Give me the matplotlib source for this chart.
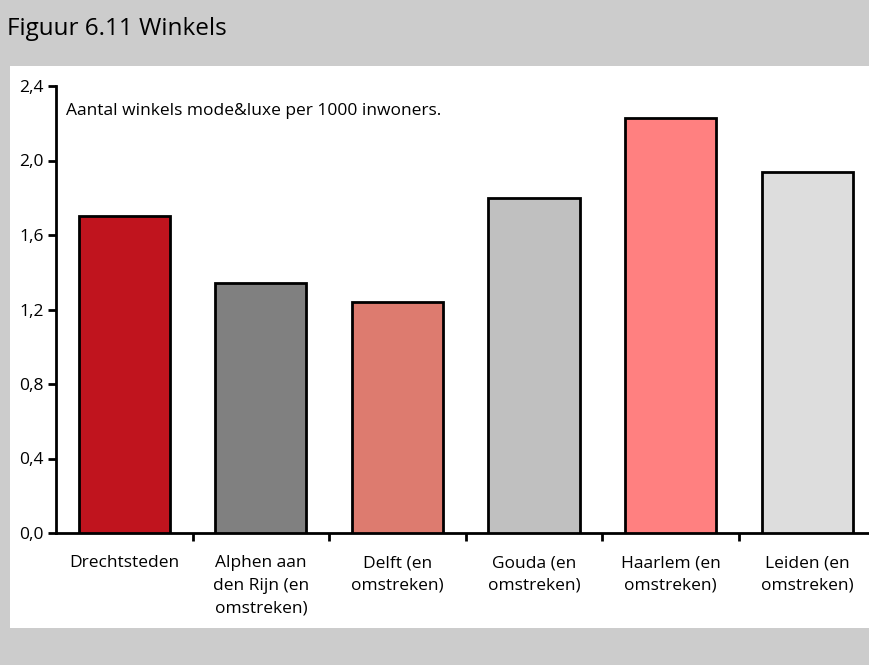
import numpy as np
import matplotlib
matplotlib.use('Agg')
import matplotlib.pyplot as plt
from matplotlib.ticker import FixedLocator, FuncFormatter

regios = ['Drechtsteden', 'Alphen aan\nden Rijn (en\nomstreken)', 'Delft (en\nomstreken)',
          'Gouda (en\nomstreken)', 'Haarlem (en\nomstreken)', 'Leiden (en\nomstreken)']
waarden = [1.70, 1.34, 1.24, 1.80, 2.23, 1.94]
kleuren = ['#c0141e', '#808080', '#dd7b6f', '#c0c0c0', '#ff8080', '#dddddd']
y_ticks = [0.0, 0.4, 0.8, 1.2, 1.6, 2.0, 2.4]

plt.rcParams['font.family'] = ['Open Sans', 'DejaVu Sans']

W, H = 870, 665
fig = plt.figure(figsize=(W / 100, H / 100), dpi=100)
fig.patch.set_facecolor('#cccccc')

# white panel behind the chart
bg = fig.add_axes([10 / W, 1 - 628 / H, 1 - 10 / W, (628 - 66) / H], zorder=-1)
bg.set_facecolor('white')
bg.set_xticks([])
bg.set_yticks([])
for s in bg.spines.values():
    s.set_visible(False)

fig.text(7 / W, 1 - 29 / H, 'Figuur 6.11 Winkels', fontsize=17.5, va='center', ha='left')

ax = fig.add_axes([56 / W, 1 - 533 / H, 1 - 56 / W, (533 - 86) / H])
ax.set_facecolor('none')
x = np.arange(len(regios))
ax.bar(x, waarden, width=0.667, color=kleuren, edgecolor='black', linewidth=2, zorder=3)

ax.set_ylim(0, 2.4)
ax.set_xlim(-0.5, 5.46)
ax.yaxis.set_major_locator(FixedLocator(y_ticks))
ax.yaxis.set_major_formatter(FuncFormatter(lambda v, p: f'{v:.1f}'.replace('.', ',')))
ax.set_xticks(x)
ax.set_xticklabels(regios, fontsize=12.5, linespacing=1.55)
ax.xaxis.set_minor_locator(FixedLocator(np.arange(0.5, 5.5, 1)))
ax.tick_params(axis='x', which='major', length=0, pad=16)
ax.tick_params(axis='x', which='minor', length=6, width=2, direction='out')
ax.tick_params(axis='y', length=6, width=2, direction='out', labelsize=12.5, pad=3)

for s in ['top', 'right']:
    ax.spines[s].set_visible(False)
for s in ['left', 'bottom']:
    ax.spines[s].set_linewidth(2)

ax.text(10 / (W - 56), 2.265, 'Aantal winkels mode&luxe per 1000 inwoners.',
        transform=ax.get_yaxis_transform(), fontsize=12.5, va='center', ha='left')

fig.savefig('out.png', dpi=100, facecolor=fig.get_facecolor())
